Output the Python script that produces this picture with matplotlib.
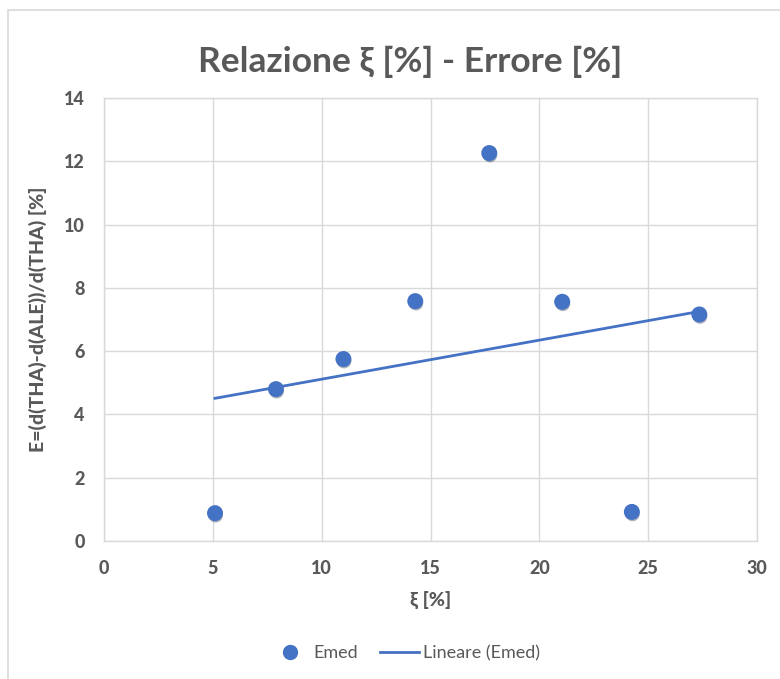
import matplotlib
matplotlib.use("Agg")
import matplotlib.pyplot as plt
import matplotlib.patheffects as pe
from matplotlib.patches import Rectangle
from matplotlib.lines import Line2D
import numpy as np

plt.rcParams['font.family'] = ['Lato', 'DejaVu Sans']

# data
xi = [5.1, 7.9, 11.0, 14.3, 17.7, 21.05, 24.25, 27.35]
emed = [0.88, 4.80, 5.75, 7.58, 12.26, 7.56, 0.92, 7.16]
xticks = [0, 5, 10, 15, 20, 25, 30]
yticks = [0, 2, 4, 6, 8, 10, 12, 14]

blue = '#4472C4'
grey_txt = '#595959'
grid_c = '#D9D9D9'

fig = plt.figure(figsize=(7.8, 6.79), dpi=100)
# chart border
fig.patches.append(Rectangle((8/780, -0.1), 1.2, 1 - 10/679 + 0.1, transform=fig.transFigure,
                             fill=False, edgecolor=grid_c, linewidth=1.2))

ax = fig.add_axes([104/780, 1 - 541/679, (757-104)/780, (541-98)/679])
ax.set_xlim(0, 30)
ax.set_ylim(0, 14)
ax.set_xticks(xticks)
ax.set_xticklabels([str(t) for t in xticks], fontweight='black')
ax.set_yticks(yticks)
ax.set_yticklabels([str(t) for t in yticks], fontweight='black')
ax.grid(True, color=grid_c, linewidth=1.0)
ax.set_axisbelow(True)
for s in ax.spines.values():
    s.set_color(grid_c)
    s.set_linewidth(1.0)
ax.tick_params(length=0, labelsize=13, labelcolor=grey_txt, pad=14)

# linear trendline
k, q = np.polyfit(xi, emed, 1)
xx = np.array([min(xi), max(xi)])
ax.plot(xx, k * xx + q, color=blue, linewidth=2.0, zorder=2)

ax.scatter(xi, emed, s=110, color=blue, zorder=3,
           path_effects=[pe.SimplePatchShadow(offset=(0.5, -1.5), alpha=0.35), pe.Normal()])

ax.set_xlabel('ξ [%]', fontsize=14, fontweight='black', color=grey_txt, labelpad=10)
ax.set_ylabel('E=(d(THA)-d(ALE))/d(THA) [%]', fontsize=14, fontweight='black', color=grey_txt, labelpad=12)

fig.text(410/780, 1 - 62/679, 'Relazione ξ [%] - Errore [%]', fontsize=25.5, fontweight='bold',
         color=grey_txt, ha='center', va='center')

handles = [Line2D([], [], linestyle='none', marker='o', markersize=10, color=blue),
           Line2D([], [], color=blue, linewidth=2.0)]
fig.legend(handles, ['Emed', 'Lineare (Emed)'], loc='center', bbox_to_anchor=(405/780, 1 - 653/679),
           ncol=2, frameon=False, fontsize=13, labelcolor=grey_txt, handlelength=2.2,
           columnspacing=1.2, handletextpad=0.2)

fig.savefig('out.png', dpi=100)
